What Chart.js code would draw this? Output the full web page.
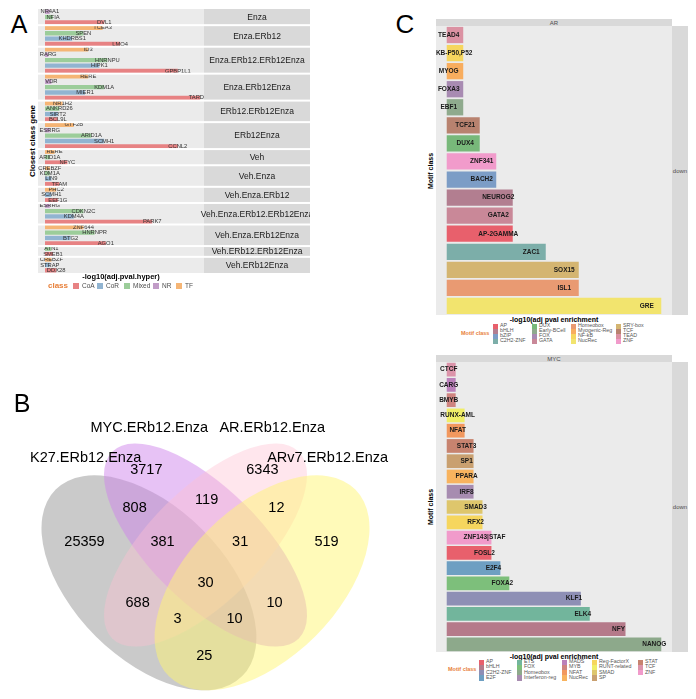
<!DOCTYPE html>
<html>
<head>
<meta charset="utf-8">
<script src="https://cdn.jsdelivr.net/npm/chart.js@4.4.1/dist/chart.umd.min.js"></script>
<style>
  html, body { margin:0; padding:0; background:#fff; }
  body { width:696px; height:699px; position:relative; overflow:hidden; font-family:"Liberation Sans", Arial, sans-serif; }
  canvas { position:absolute; }
  .t { position:absolute; white-space:nowrap; line-height:1; }
  .box { position:absolute; }
</style>
</head>
<body>
<canvas id="venn" width="377" height="316" style="left:17px;top:383px"></canvas>
<canvas id="chartA" width="272" height="264" style="left:38px;top:9px"></canvas>
<canvas id="chartAR" width="236" height="289" style="left:436px;top:26px"></canvas>
<canvas id="chartMYC" width="236" height="290" style="left:436px;top:362px"></canvas>
<script>
// ---- panel A data ----
var facetNames = ['Enza', 'Enza.ERb12', 'Enza.ERb12.ERb12Enza', 'Enza.ERb12Enza', 'ERb12.ERb12Enza', 'ERb12Enza',
    'Veh', 'Veh.Enza', 'Veh.Enza.ERb12', 'Veh.Enza.ERb12.ERb12Enza', 'Veh.Enza.ERb12Enza', 'Veh.ERb12.ERb12Enza', 'Veh.ERb12Enza'];
var facetSizes = [3, 4, 5, 5, 4, 5, 3, 4, 3, 4, 4, 2, 3];
var geneNames = ['NR4A1', 'NFIA', 'DVL1',
    'TCEA3', 'SPEN', 'KHDRBS1', 'LMO4',
    'ID3', 'RARG', 'HNRNPU', 'HIPK1', 'GPBP1L1',
    'RERE', 'VDR', 'KDM1A', 'MIER1', 'TARDBP',
    'NR1H2', 'ANKRD26', 'SIRT2', 'BCL9L',
    'GTF2B', 'ESRRG', 'ARID1A', 'SCMH1', 'CCNL2',
    'RERE', 'ARID1A', 'NFYC',
    'CREBZF', 'KDM1A', 'LIN9', 'TFAM',
    'PHC2', 'SCMH1', 'EEF1G',
    'ESRRG', 'CDKN2C', 'KDM4A', 'PARK7',
    'ZNF644', 'HNRNPR', 'BTG2', 'AGO1',
    'ATN1', 'SMEB1',
    'CREBZF', 'STRAP', 'DDX28'];
var geneClass = ['NR', 'Mixed', 'CoA',
    'TF', 'Mixed', 'CoR', 'CoA',
    'TF', 'NR', 'Mixed', 'CoR', 'CoA',
    'TF', 'NR', 'Mixed', 'CoR', 'CoA',
    'TF', 'Mixed', 'CoR', 'CoA',
    'TF', 'NR', 'Mixed', 'CoR', 'CoA',
    'TF', 'Mixed', 'CoA',
    'TF', 'Mixed', 'CoR', 'CoA',
    'TF', 'CoR', 'CoA',
    'NR', 'Mixed', 'CoR', 'CoA',
    'TF', 'Mixed', 'CoR', 'CoA',
    'Mixed', 'CoA',
    'TF', 'CoR', 'CoA'];
var geneValues = [0.3, 0.5, 3.7,
    3.6, 2.4, 1.7, 4.7,
    2.7, 0.2, 3.9, 3.4, 8.3,
    2.7, 0.4, 3.7, 2.5, 9.7,
    1.1, 0.9, 0.8, 0.8,
    1.8, 0.3, 2.9, 3.7, 8.3,
    0.6, 0.3, 1.4,
    0.3, 0.3, 0.4, 0.9,
    0.7, 0.4, 0.8,
    0.3, 2.4, 1.8, 6.7,
    2.4, 3.1, 1.6, 3.8,
    0.4, 0.5,
    0.4, 0.3, 0.7];
var geneClassNames = ['CoA', 'CoR', 'Mixed', 'NR', 'TF'];

// ---- panel B data ----
var vennSets = ['K27.ERb12.Enza', 'MYC.ERb12.Enza', 'AR.ERb12.Enza', 'ARv7.ERb12.Enza'];
// K27, MYC, AR, ARv7, K27&MYC, MYC&AR, AR&ARv7, K27&MYC&AR, MYC&AR&ARv7, all, K27&AR, MYC&ARv7, K27&AR&ARv7, K27&MYC&ARv7, K27&ARv7
var vennCounts = [25359, 3717, 6343, 519, 808, 119, 12, 381, 31, 30, 688, 10, 3, 10, 25];

// ---- panel C data ----
var arMotifs = ['TEAD4', 'NF-KB-P50,P52', 'MYOG', 'FOXA3', 'EBF1', 'TCF21', 'DUX4', 'ZNF341', 'BACH2', 'NEUROG2', 'GATA2', 'AP-2GAMMA', 'ZAC1', 'SOX15', 'ISL1', 'GRE'];
var arValues = [1, 1, 1, 1, 1, 2, 2, 3, 3, 4, 4, 4, 6, 8, 8, 13];
var arClass = ['TEAD', 'NF-kB', 'Myogenic-Reg', 'FOX', 'Early-BCell', 'TCF', 'DUX', 'ZNF', 'bZIP', 'bHLH', 'GATA', 'AP', 'C2H2-ZNF', 'SRY-box', 'Homeobox', 'NucRec'];
var arClassNames = ['AP', 'bHLH', 'bZIP', 'C2H2-ZNF', 'DUX', 'Early-BCell', 'FOX', 'GATA', 'Homeobox', 'Myogenic-Reg', 'NF-kB', 'NucRec', 'SRY-box', 'TCF', 'TEAD', 'ZNF'];

var mycMotifs = ['CTCF', 'CARG', 'BMYB', 'RUNX-AML', 'NFAT', 'STAT3', 'SP1', 'PPARA', 'IRF8', 'SMAD3', 'RFX2', 'ZNF143|STAF', 'FOSL2', 'E2F4', 'FOXA2', 'KLF1', 'ELK4', 'NFY', 'NANOG'];
var mycValues = [1, 1, 1, 2, 2, 3, 3, 3, 3, 4, 4, 5, 5, 6, 7, 15, 16, 20, 24];
var mycClass = ['TCF', 'MADS', 'MYB', 'RUNT-related', 'NFAT', 'STAT', 'SP', 'NucRec', 'Interferon-reg', 'SMAD', 'Reg-FactorX', 'ZNF', 'AP', 'E2F', 'FOX', 'C2H2-ZNF', 'ETS', 'bHLH', 'Homeobox'];
var mycClassNames = ['AP', 'bHLH', 'C2H2-ZNF', 'E2F', 'ETS', 'FOX', 'Homeobox', 'Interferon-reg', 'MADS', 'MYB', 'NFAT', 'NucRec', 'Reg-FactorX', 'RUNT-related', 'SMAD', 'SP', 'STAT', 'TCF', 'ZNF'];

// ---- colours ----
var geneColors = { CoA: '#E78283', CoR: '#91B4D1', Mixed: '#9CCD9A', NR: '#C19CC7', TF: '#F5B575' };
var arColors = {
    'AP': '#E8606C', 'bHLH': '#B27E90', 'bZIP': '#7C9DC6', 'C2H2-ZNF': '#7CAEA9', 'DUX': '#78B87A',
    'Early-BCell': '#8FAA8D', 'FOX': '#A88BB2', 'GATA': '#C98898', 'Homeobox': '#E99A72',
    'Myogenic-Reg': '#F8AD5E', 'NF-kB': '#F6D65E', 'NucRec': '#F2E46E', 'SRY-box': '#D4B571',
    'TCF': '#B8826F', 'TEAD': '#DB91A2', 'ZNF': '#F19BCB'
};
var mycColors = {
    'AP': '#E8606C', 'bHLH': '#B57A8A', 'C2H2-ZNF': '#8E8FB5', 'E2F': '#6E9FC2', 'ETS': '#72B59C',
    'FOX': '#7DBF7B', 'Homeobox': '#8DA98B', 'Interferon-reg': '#A78CB0', 'MADS': '#BB80BA',
    'MYB': '#CF8480', 'NFAT': '#F2985E', 'NucRec': '#F8B35E', 'Reg-FactorX': '#F6D65E',
    'RUNT-related': '#F0EE68', 'SMAD': '#DEC66C', 'SP': '#C9A070', 'STAT': '#C7836F',
    'TCF': '#DC94AA', 'ZNF': '#F19BCB'
};

var FONT = '"Liberation Sans", Arial, sans-serif';
Chart.defaults.font.family = FONT;

// html text helper
function put(txt, x, y, size, opts) {
    opts = opts || {};
    var d = document.createElement('div');
    d.className = 't';
    d.textContent = txt;
    d.style.left = x + 'px';
    d.style.top = y + 'px';
    d.style.fontSize = size + 'px';
    d.style.color = opts.color || '#000';
    if (opts.bold) d.style.fontWeight = 'bold';
    var tr = opts.anchor === 'l' ? 'translate(0,-50%)' : 'translate(-50%,-50%)';
    if (opts.rotate) tr += ' rotate(-90deg)';
    d.style.transform = tr;
    document.body.appendChild(d);
}
function box(x, y, w, h, color) {
    var d = document.createElement('div');
    d.className = 'box';
    d.style.left = x + 'px'; d.style.top = y + 'px';
    d.style.width = w + 'px'; d.style.height = h + 'px';
    d.style.background = color;
    document.body.appendChild(d);
}

// ---------- panel A ----------
var facetPlugin = {
    id: 'facetStrips',
    beforeDatasetsDraw: function(chart) {
        var ctx = chart.ctx, a = chart.chartArea;
        ctx.save();
        ctx.fillStyle = '#EBEBEB';
        ctx.fillRect(a.left, a.top, a.right - a.left, a.bottom - a.top);
        ctx.fillStyle = '#D9D9D9';
        ctx.fillRect(a.right, a.top, chart.width - a.right, a.bottom - a.top);
        ctx.restore();
    },
    afterDatasetsDraw: function(chart) {
        var ctx = chart.ctx, a = chart.chartArea, ys = chart.scales.y;
        var meta = chart.getDatasetMeta(0);
        ctx.save();
        // gene labels centred on bar ends
        ctx.beginPath();
        ctx.rect(a.left, a.top, a.right - a.left, a.bottom - a.top);
        ctx.clip();
        ctx.font = '5.8px ' + FONT;
        ctx.fillStyle = '#333';
        ctx.textAlign = 'center';
        ctx.textBaseline = 'middle';
        meta.data.forEach(function(bar, i) {
            ctx.fillText(geneNames[i], bar.x, bar.y);
        });
        ctx.restore();

        ctx.save();
        var n = geneNames.length, start = 0;
        ctx.font = '8.5px ' + FONT;
        ctx.textAlign = 'center';
        ctx.textBaseline = 'middle';
        facetNames.forEach(function(name, f) {
            var end = start + facetSizes[f];
            var yTop = start === 0 ? a.top : (ys.getPixelForValue(start - 1) + ys.getPixelForValue(start)) / 2;
            var yBot = end === n ? a.bottom : (ys.getPixelForValue(end - 1) + ys.getPixelForValue(end)) / 2;
            if (f > 0) {
                ctx.fillStyle = '#fff';
                ctx.fillRect(0, yTop - 1, chart.width, 2);
            }
            ctx.fillStyle = '#1A1A1A';
            ctx.fillText(name, (a.right + chart.width) / 2, (yTop + yBot) / 2 + 0.5);
            start = end;
        });
        ctx.restore();
    }
};

new Chart(document.getElementById('chartA'), {
    type: 'bar',
    data: {
        labels: geneNames,
        datasets: [{
            data: geneValues,
            backgroundColor: geneClass.map(function(c) { return geneColors[c]; }),
            barPercentage: 0.8,
            categoryPercentage: 1
        }]
    },
    options: {
        indexAxis: 'y',
        responsive: false,
        animation: false,
        events: [],
        layout: { padding: { right: 106 } },
        plugins: { legend: { display: false }, tooltip: { enabled: false } },
        scales: {
            x: { display: false, min: -0.4375, max: 9.9375 },
            y: { display: false }
        }
    },
    plugins: [facetPlugin]
});

put('A', 19, 24, 25);
put('Closest class gene', 33, 141, 8, { bold: true, rotate: true });
put('-log10(adj.pval.hyper)', 121, 277, 7.5, { bold: true });
put('class', 48, 286, 8, { bold: true, color: '#E8803A', anchor: 'l' });
var aBoxX = [73, 97, 124, 153, 176];
var aLabX = [82, 106, 133, 162, 185];
geneClassNames.forEach(function(c, i) {
    box(aBoxX[i], 283, 6, 6, geneColors[c]);
    put(c, aLabX[i], 286, 6.5, { color: '#4D4D4D', anchor: 'l' });
});

// ---------- panel B ----------
var vennPos = [[0.179, 0.578], [0.343, 0.769], [0.651, 0.769], [0.821, 0.578], [0.312, 0.668], [0.503, 0.689],
    [0.688, 0.668], [0.386, 0.578], [0.592, 0.578], [0.5, 0.469], [0.320, 0.416], [0.683, 0.416],
    [0.426, 0.373], [0.577, 0.373], [0.497, 0.275]];
var setLabelPos = [[0.182, 0.800], [0.351, 0.880], [0.677, 0.880], [0.824, 0.800]];
// ellipse: centre, semi-axes, screen rotation
var ellipses = [
    { cx: 0.35, cy: 0.47, a: 0.35, b: 0.2, rot: Math.PI / 4, fill: 'rgba(150,150,150,0.5)' },
    { cx: 0.5, cy: 0.57, a: 0.35, b: 0.15, rot: Math.PI / 4, fill: 'rgba(207,133,235,0.5)' },
    { cx: 0.5, cy: 0.57, a: 0.35, b: 0.15, rot: -Math.PI / 4, fill: 'rgba(255,192,210,0.4)' },
    { cx: 0.65, cy: 0.47, a: 0.35, b: 0.2, rot: -Math.PI / 4, fill: 'rgba(255,245,115,0.5)' }
];

var vennPlugin = {
    id: 'venn',
    beforeDatasetsDraw: function(chart) {
        var ctx = chart.ctx, xs = chart.scales.x, ys = chart.scales.y;
        var unit = xs.getPixelForValue(1) - xs.getPixelForValue(0);
        ctx.save();
        ellipses.forEach(function(e) {
            ctx.beginPath();
            ctx.ellipse(xs.getPixelForValue(e.cx), ys.getPixelForValue(e.cy), e.a * unit, e.b * unit, e.rot, 0, Math.PI * 2);
            ctx.fillStyle = e.fill;
            ctx.fill();
        });
        ctx.restore();
    },
    afterDatasetsDraw: function(chart) {
        var ctx = chart.ctx, xs = chart.scales.x, ys = chart.scales.y;
        var meta = chart.getDatasetMeta(0);
        ctx.save();
        ctx.font = '14.5px ' + FONT;
        ctx.fillStyle = '#000';
        ctx.textAlign = 'center';
        ctx.textBaseline = 'middle';
        meta.data.forEach(function(pt, i) {
            ctx.fillText(String(vennCounts[i]), pt.x, pt.y);
        });
        vennSets.forEach(function(s, i) {
            ctx.fillText(s, xs.getPixelForValue(setLabelPos[i][0]), ys.getPixelForValue(setLabelPos[i][1]));
        });
        ctx.restore();
    }
};

new Chart(document.getElementById('venn'), {
    type: 'scatter',
    data: {
        datasets: [{
            data: vennCounts.map(function(c, i) { return { x: vennPos[i][0], y: vennPos[i][1] }; }),
            pointRadius: 0
        }]
    },
    options: {
        responsive: false,
        animation: false,
        events: [],
        plugins: { legend: { display: false }, tooltip: { enabled: false } },
        scales: {
            x: { display: false, min: 0, max: 1 },
            y: { display: false, min: 1 - 316 / 377, max: 1 }
        }
    },
    plugins: [vennPlugin]
});
put('B', 22, 403, 25);

// ---------- panel C ----------
function motifPlugin(names, values) {
    return {
        id: 'motifLabels',
        beforeDatasetsDraw: function(chart) {
            var ctx = chart.ctx, a = chart.chartArea;
            ctx.save();
            ctx.fillStyle = '#EBEBEB';
            ctx.fillRect(a.left, a.top, a.right - a.left, a.bottom - a.top);
            ctx.restore();
        },
        afterDatasetsDraw: function(chart) {
            var ctx = chart.ctx, a = chart.chartArea, xs = chart.scales.x;
            var meta = chart.getDatasetMeta(0);
            ctx.save();
            ctx.beginPath();
            ctx.rect(a.left, a.top, a.right - a.left, a.bottom - a.top);
            ctx.clip();
            ctx.font = 'bold 6.5px ' + FONT;
            ctx.fillStyle = '#1A1A1A';
            ctx.textAlign = 'center';
            ctx.textBaseline = 'middle';
            meta.data.forEach(function(bar, i) {
                ctx.fillText(names[i], xs.getPixelForValue(values[i] - 1) + 2, bar.y);
            });
            ctx.restore();
        }
    };
}

function motifChart(id, names, values, classes, colors, xmax) {
    return new Chart(document.getElementById(id), {
        type: 'bar',
        data: {
            labels: names,
            datasets: [{
                data: values,
                backgroundColor: classes.map(function(c) { return colors[c]; }),
                barPercentage: 0.9,
                categoryPercentage: 1
            }]
        },
        options: {
            indexAxis: 'y',
            responsive: false,
            animation: false,
            events: [],
            plugins: { legend: { display: false }, tooltip: { enabled: false } },
            scales: {
                x: { display: false, min: -xmax * 0.05, max: xmax * 1.05 },
                y: { display: false }
            }
        },
        plugins: [motifPlugin(names, values)]
    });
}

motifChart('chartAR', arMotifs, arValues, arClass, arColors, 13);
motifChart('chartMYC', mycMotifs, mycValues, mycClass, mycColors, 24);

put('C', 405, 24, 26);

function facetFrame(title, top, bottom) {
    box(436, top - 7, 236, 7, '#D9D9D9');
    put(title, 554, top - 3.5, 6, { color: '#4D4D4D' });
    box(672, top, 16, bottom - top, '#D9D9D9');
    put('down', 680, (top + bottom) / 2, 6, { color: '#4D4D4D' });
    put('Motif class', 430, (top + bottom) / 2, 7, { bold: true, rotate: true });
    put('-log10(adj pval enrichment', 554, bottom + 3.5, 7, { bold: true });
}
facetFrame('AR', 26, 315);
facetFrame('MYC', 362, 652);

function motifLegend(classNames, colors, titleX, titleY, boxXs, rowTop, rowStep) {
    put('Motif class', titleX, titleY, 5.5, { bold: true, color: '#E8803A', anchor: 'l' });
    classNames.forEach(function(c, i) {
        var col = Math.floor(i / 4), row = i % 4;
        var y = rowTop + row * rowStep;
        box(boxXs[col], y, 5, rowStep, colors[c]);
        put(c, boxXs[col] + 7, y + rowStep / 2, 5.3, { color: '#555', anchor: 'l' });
    });
}
motifLegend(arClassNames, arColors, 461, 334, [493, 532, 571, 616], 323.5, 5.1);
motifLegend(mycClassNames, mycColors, 448, 670, [479, 517, 562, 592, 638], 659.5, 5.25);
</script>
</body>
</html>
